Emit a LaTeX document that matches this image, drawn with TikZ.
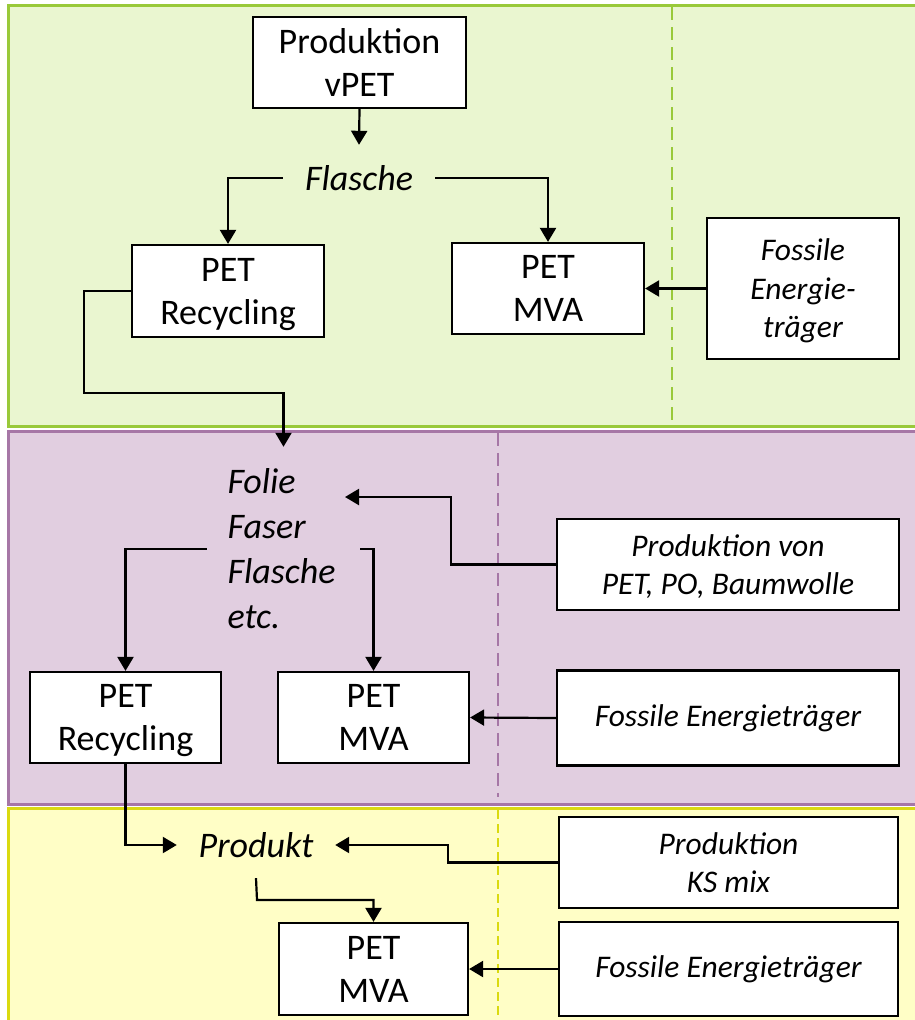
\documentclass[tikz,border=0pt]{standalone}
\usepackage{fontspec}
\setmainfont{Carlito}
\usetikzlibrary{arrows.meta}

\definecolor{greenfill}{HTML}{EAF6D0}
\definecolor{greenline}{HTML}{99C93A}
\definecolor{purplefill}{HTML}{E1CEE0}
\definecolor{purpleline}{HTML}{A677A6}
\definecolor{yellowfill}{HTML}{FFFEC6}
\definecolor{yellowline}{HTML}{DADA10}

% last line set without its descender depth
\newcommand\nodepth[1]{\raisebox{0pt}[\height][0pt]{#1}}

\begin{document}
\begin{tikzpicture}[x=1pt,y=-1pt,
  band/.style={line width=3pt},
  divider/.style={line width=2.5pt, dash pattern=on 13pt off 7pt},
  box/.style={draw=black, fill=white, line width=2.2pt, inner sep=0pt,
    align=center, font=\fontsize{36}{43}\selectfont},
  srcbox/.style={box, font=\itshape\fontsize{31.5}{38.5}\selectfont},
  lbl/.style={inner sep=0pt, font=\itshape\fontsize{36}{45}\selectfont},
  flow/.style={line width=2.2pt, -{Triangle[width=16pt,length=14pt]}}]

\useasboundingbox (0,0) rectangle (915,1020);
\clip (0,0) rectangle (915,1020);

% three bands
\draw[band, draw=greenline, fill=greenfill] (8.5,5.5) rectangle (930,426.5);
\draw[band, draw=purpleline, fill=purplefill] (8.5,431.5) rectangle (930,804.5);
\draw[band, draw=yellowline, fill=yellowfill] (8.5,808.5) rectangle (930,1040);

% system boundaries
\draw[divider, draw=greenline] (672,7) -- (672,425);
\draw[divider, draw=purpleline] (498,433) -- (498,797);
\draw[divider, draw=yellowline, line width=1.6pt, dash pattern=on 9pt off 5pt] (498,810) -- (498,1020);

% first life: bottle
\node[box, minimum width=213pt, minimum height=91pt] (pv) at (359.5,62.5) {Produktion\\vPET};
\node[lbl, minimum width=152pt, minimum height=66pt] (fl) at (359,178) {Flasche};
\node[box, minimum width=192pt, minimum height=92pt] (rec1) at (228,291) {PET\\\nodepth{Recycling}};
\node[box, minimum width=192pt, minimum height=91pt] (mva1) at (548,288.5) {PET\\MVA};
\node[srcbox, minimum width=192pt, minimum height=141pt] (fos1) at (803,288.5) {Fossile\\Energie-\\\nodepth{träger}};

\draw[flow] (pv.south) -- (fl.north);
\draw[flow] (fl.west) -| (rec1.north);
\draw[flow] (fl.east) -| (mva1.north);
\draw[flow] (fos1.west) -- (mva1.east);

% second life: film, fibre, bottle
\node[lbl, minimum width=153pt, minimum height=204pt, text width=112pt, align=left] (fo) at (283.5,549) {Folie\\Faser\\Flasche\\etc.};
\node[srcbox, minimum width=342pt, minimum height=91pt] (prod2) at (728,564.5) {Produktion von\\\nodepth{PET, PO, Baumwolle}};
\node[box, minimum width=191pt, minimum height=91pt] (rec2) at (125.5,717.5) {PET\\\nodepth{Recycling}};
\node[box, minimum width=191pt, minimum height=91pt] (mva2) at (373.5,717.5) {PET\\MVA};
\node[srcbox, minimum width=342pt, minimum height=95pt] (fos2) at (728,718) {Fossile Energieträger};

\coordinate (j1) at (84,393);
\coordinate (j2) at (451,497);
\coordinate (foin) at (345,497);

\draw[flow] (rec1.west) -| (j1) -| (fo.north);
\draw[flow] (prod2.west) -| (j2) -- (foin);
\draw[flow] (fo.west) -| (rec2.north);
\draw[flow] (fo.east) -| (mva2.north);
\draw[flow] (fos2.west) -- (mva2.east);

% third life: product
\node[lbl, minimum width=158pt, minimum height=66pt] (pr) at (256,845) {Produkt};
\node[srcbox, minimum width=339pt, minimum height=91pt] (ks) at (728.5,862.5) {Produktion\\KS mix};
\node[box, minimum width=189pt, minimum height=92pt] (mva3) at (373.5,969) {PET\\MVA};
\node[srcbox, minimum width=339pt, minimum height=94pt] (fos3) at (728.5,969) {Fossile Energieträger};

\coordinate (j3) at (448,845);
\coordinate (j4) at (257,900);

\draw[flow] (rec2.south) |- (pr.west);
\draw[flow] (ks.west) -| (j3) -- (pr.east);
\draw[flow] (pr.south) -- (j4) -| (mva3.north);
\draw[flow] (fos3.west) -- (mva3.east);

\end{tikzpicture}
\end{document}
